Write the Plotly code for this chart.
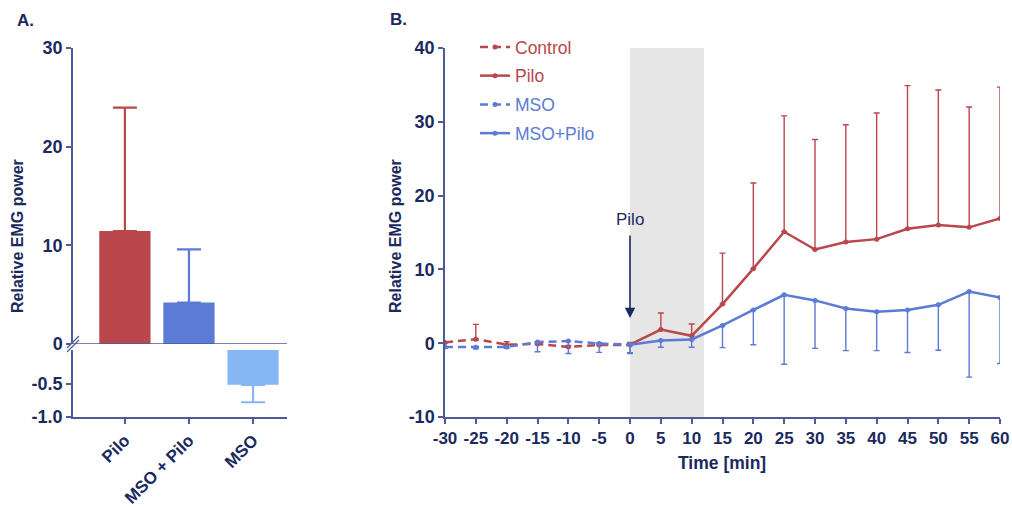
import plotly.graph_objects as go

# ---------------- data ----------------
# Panel A: mean relative EMG power per group
bar_groups = ["Pilo", "MSO + Pilo", "MSO"]
bar_means = [11.45, 4.2, -0.52]
bar_err = [12.5, 5.4, 0.26]

# Panel B: time course
t_pre = [-30, -25, -20, -15, -10, -5, 0]
t_post = [0, 5, 10, 15, 20, 25, 30, 35, 40, 45, 50, 55, 60]
time_ticks = [-30, -25, -20, -15, -10, -5, 0, 5, 10, 15, 20, 25, 30, 35, 40, 45, 50, 55, 60]
power_ticks = [-10, 0, 10, 20, 30, 40]

control_mean = [0.1, 0.55, -0.2, -0.1, -0.5, -0.25, -0.25]
control_err = [0.0, 2.0, 0.4, 0.3, 0.2, 0.3, 0.2]

mso_mean = [-0.5, -0.55, -0.5, 0.15, 0.3, -0.05, -0.2]
mso_err = [0.2, 0.2, 0.2, 1.3, 1.7, 1.2, 1.1]

pilo_mean = [-0.2, 1.85, 1.0, 5.3, 10.1, 15.1, 12.7, 13.7, 14.1, 15.5, 16.0, 15.7, 16.9]
pilo_err = [0.3, 2.25, 1.6, 6.9, 11.6, 15.7, 14.9, 15.9, 17.1, 19.4, 18.3, 16.3, 17.8]

msopilo_mean = [-0.2, 0.35, 0.5, 2.4, 4.5, 6.55, 5.8, 4.7, 4.25, 4.5, 5.2, 7.0, 6.2]
msopilo_err = [1.2, 0.9, 1.05, 3.0, 4.7, 9.4, 6.5, 5.7, 5.25, 5.77, 6.15, 11.6, 8.95]

# ---------------- styling ----------------
W, H = 1012, 507
RED = "#b9474b"
BLUE = "#5b7bd5"
LIGHTBLUE = "#87b6f5"
NAVY = "#1b2a5e"
AXIS = "#4f5a96"
FONT = "Liberation Sans, Arial, sans-serif"
bar_colors = [RED, BLUE, LIGHTBLUE]
bar_axes = ["y", "y", "y2"]


def px_x(p):
    return p / W


def px_y(p):
    return 1 - p / H


fig = go.Figure()

# ---------- Panel A: bars on a broken y axis ----------
for g, m, e, c, ya in zip(bar_groups, bar_means, bar_err, bar_colors, bar_axes):
    up = m >= 0
    fig.add_trace(go.Bar(
        x=[g], y=[m], width=0.8,
        marker=dict(color=c, line=dict(width=0)),
        error_y=dict(type="data", symmetric=False,
                     array=[e if up else 0], arrayminus=[0 if up else e],
                     color=c, thickness=2.2, width=12),
        xaxis="x", yaxis=ya, showlegend=False,
    ))

# ---------- Panel B: time course ----------
def legend_name(txt, col):
    return f"<span style='color:{col}'>{txt}</span>"


fig.add_trace(go.Scatter(
    x=t_pre, y=control_mean, mode="lines+markers",
    name=legend_name("Control", RED), legendgroup="a",
    line=dict(color=RED, width=2.5, dash="8px,5px"),
    marker=dict(size=5, color=RED),
    error_y=dict(type="data", symmetric=False, array=control_err,
                 arrayminus=[0] * len(control_err), color=RED, thickness=1.4, width=3),
    xaxis="x3", yaxis="y3",
))
fig.add_trace(go.Scatter(
    x=t_post, y=pilo_mean, mode="lines+markers",
    name=legend_name("Pilo", RED), legendgroup="b",
    line=dict(color=RED, width=2.5),
    marker=dict(size=5, color=RED),
    error_y=dict(type="data", symmetric=False, array=pilo_err,
                 arrayminus=[0] * len(pilo_err), color=RED, thickness=1.4, width=3),
    xaxis="x3", yaxis="y3",
))
fig.add_trace(go.Scatter(
    x=t_pre, y=mso_mean, mode="lines+markers",
    name=legend_name("MSO", BLUE), legendgroup="c",
    line=dict(color=BLUE, width=2.5, dash="8px,5px"),
    marker=dict(size=5, color=BLUE),
    error_y=dict(type="data", symmetric=False, array=[0] * len(mso_err),
                 arrayminus=mso_err, color=BLUE, thickness=1.4, width=3),
    xaxis="x3", yaxis="y3",
))
fig.add_trace(go.Scatter(
    x=t_post, y=msopilo_mean, mode="lines+markers",
    name=legend_name("MSO+Pilo", BLUE), legendgroup="d",
    line=dict(color=BLUE, width=2.5),
    marker=dict(size=5, color=BLUE),
    error_y=dict(type="data", symmetric=False, array=[0] * len(msopilo_err),
                 arrayminus=msopilo_err, color=BLUE, thickness=1.4, width=3),
    xaxis="x3", yaxis="y3",
))

# ---------------- axes ----------------
tickfont = dict(family=FONT, size=18, color=NAVY, weight="bold")
common = dict(showgrid=False, zeroline=False, showline=True, linecolor=AXIS,
              linewidth=1.5, ticks="outside", tickcolor=AXIS, ticklen=5,
              tickwidth=1.5, tickfont=tickfont, automargin=False)
common_x = dict(common, tickfont=dict(tickfont, size=17))

fig.update_layout(
    barmode="overlay",
    xaxis=dict(domain=[px_x(73), px_x(287)], anchor="y2", type="category",
               range=[-0.81, 2.53], tickangle=-45, **common_x),
    yaxis=dict(domain=[px_y(344), px_y(48)], anchor="x", range=[0, 30],
               tickvals=[0, 10, 20, 30], **common),
    yaxis2=dict(domain=[px_y(417), px_y(350)], anchor="x", range=[-1, 0],
                tickvals=[-1, -0.5], ticktext=["-1.0", "-0.5"], **common),
    xaxis3=dict(domain=[px_x(445), px_x(1000)], anchor="y3", range=[-30, 60],
                tickvals=time_ticks, ticktext=[str(t) for t in time_ticks],
                tickangle=0, **common_x),
    yaxis3=dict(domain=[px_y(417), px_y(48)], anchor="x3", range=[-10, 40],
                tickvals=power_ticks, ticktext=[str(t) for t in power_ticks],
                **common),
)

# ---------------- shapes ----------------
shapes = [
    # injection window
    dict(type="rect", xref="x3", yref="y3", x0=0, x1=12, y0=-10, y1=40,
         fillcolor="#e6e6e6", line=dict(width=0), layer="below"),
    # baseline of the upper segment in panel A
    dict(type="line", xref="x domain", yref="y", x0=0, x1=1, y0=0, y1=0,
         line=dict(color=AXIS, width=1.5)),
]
# axis-break marks
for dy in (0, 4):
    shapes.append(dict(type="line", xref="paper", yref="paper",
                       x0=px_x(67), y0=px_y(351 + dy - 3),
                       x1=px_x(79), y1=px_y(339 + dy - 3),
                       line=dict(color=AXIS, width=1.3)))
fig.update_layout(shapes=shapes)

# ---------------- annotations ----------------
bold = dict(family=FONT, color=NAVY, weight="bold")
ann = [
    dict(text="A.", xref="paper", yref="paper", x=px_x(15), y=px_y(21),
         xanchor="left", yanchor="middle", showarrow=False, font=dict(size=17, **bold)),
    dict(text="B.", xref="paper", yref="paper", x=px_x(388), y=px_y(20),
         xanchor="left", yanchor="middle", showarrow=False, font=dict(size=17, **bold)),
    dict(text="Relative EMG power", xref="paper", yref="paper", x=px_x(18), y=px_y(236),
         textangle=-90, showarrow=False, xanchor="center", yanchor="middle",
         font=dict(size=16, **bold)),
    dict(text="Relative EMG power", xref="paper", yref="paper", x=px_x(396), y=px_y(236),
         textangle=-90, showarrow=False, xanchor="center", yanchor="middle",
         font=dict(size=16, **bold)),
    dict(text="Time [min]", xref="paper", yref="paper", x=px_x(722), y=px_y(463),
         showarrow=False, xanchor="center", yanchor="middle",
         font=dict(size=17.5, **bold)),
    dict(text="", xref="x3", yref="y3", x=0, y=3.4, axref="x3", ayref="y3",
         ax=0, ay=14.8, showarrow=True, arrowhead=2, arrowsize=1.3,
         arrowwidth=1.6, arrowcolor=NAVY),
    dict(text="Pilo", xref="x3", yref="y3", x=0, y=16.8, showarrow=False,
         xanchor="center", yanchor="middle",
         font=dict(family=FONT, size=17, color=NAVY)),
]
fig.update_layout(annotations=ann)

fig.update_layout(
    width=W, height=H, margin=dict(l=0, r=0, t=0, b=0),
    paper_bgcolor="white", plot_bgcolor="white",
    legend=dict(x=px_x(475), y=px_y(29), xanchor="left", yanchor="top",
                font=dict(family=FONT, size=17.5), bgcolor="rgba(0,0,0,0)",
                tracegroupgap=3, itemwidth=30),
)

fig.write_html("out.html")
